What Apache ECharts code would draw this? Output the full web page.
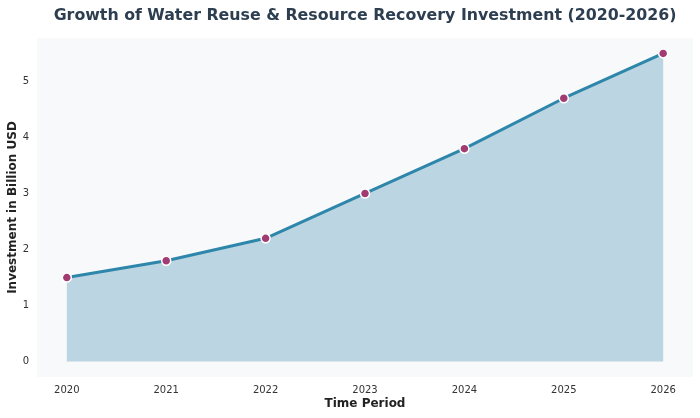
<!DOCTYPE html>
<html>
<head>
<meta charset="utf-8">
<script src="https://cdn.jsdelivr.net/npm/echarts@6/dist/echarts.min.js"></script>
<style>
    html, body { margin: 0; padding: 0; background: #fff; }
    #chart { width: 700px; height: 418px; }
</style>
</head>
<body>
<div id="chart"></div>
<script>
    // 数据
    var years = [2020, 2021, 2022, 2023, 2024, 2025, 2026];
    var investment = [1.5, 1.8, 2.2, 3.0, 3.8, 4.7, 5.5];
    var yTicks = [0, 1, 2, 3, 4, 5];

    var points = years.map(function(y, i) {
        return [y, investment[i]];
    });

    var font = 'DejaVu Sans';
    var option = {
        backgroundColor: '#fff',
        animation: false,
        title: {
            text: 'Growth of Water Reuse & Resource Recovery Investment (2020-2026)',
            left: 360,
            textAlign: 'center',
            top: 3,
            textStyle: {
                fontFamily: font,
                fontWeight: 'bold',
                fontSize: 15.8,
                color: '#2c3e50'
            }
        },
        grid: {
            left: 37,
            right: 7,
            top: 38,
            bottom: 41,
            outerBoundsMode: 'none',
            containLabel: false,
            show: true,
            backgroundColor: '#f8f9fa',
            borderWidth: 0
        },
        xAxis: {
            type: 'value',
            min: 2019.7,
            max: 2026.3,
            name: 'Time Period',
            nameLocation: 'middle',
            nameGap: 21,
            nameMoveOverlap: false,
            nameTextStyle: {
                fontFamily: font,
                fontWeight: 'bold',
                fontSize: 12,
                color: '#222'
            },
            axisLine: { show: false },
            axisTick: { show: false },
            splitLine: { show: false },
            axisLabel: {
                customValues: years,
                margin: 8,
                fontFamily: font,
                fontSize: 10,
                color: '#333',
                formatter: function(v) { return String(v); }
            }
        },
        yAxis: {
            type: 'value',
            min: -0.275,
            max: 5.775,
            name: 'Investment in Billion USD',
            nameLocation: 'middle',
            nameGap: 18,
            nameMoveOverlap: false,
            nameTextStyle: {
                fontFamily: font,
                fontWeight: 'bold',
                fontSize: 12,
                color: '#222'
            },
            axisLine: { show: false },
            axisTick: { show: false },
            splitLine: { show: false },
            axisLabel: {
                customValues: yTicks,
                margin: 8,
                fontFamily: font,
                fontSize: 10,
                color: '#333'
            }
        },
        series: [{
            type: 'line',
            data: points,
            symbol: 'circle',
            symbolSize: 9,
            lineStyle: {
                color: '#2e86ab',
                width: 3
            },
            itemStyle: {
                color: '#a23b72',
                borderColor: '#fff',
                borderWidth: 1.5
            },
            areaStyle: {
                color: '#2e86ab',
                opacity: 0.3,
                origin: 0
            }
        }]
    };

    var myChart = echarts.init(document.getElementById('chart'));
    myChart.setOption(option);
</script>
</body>
</html>
